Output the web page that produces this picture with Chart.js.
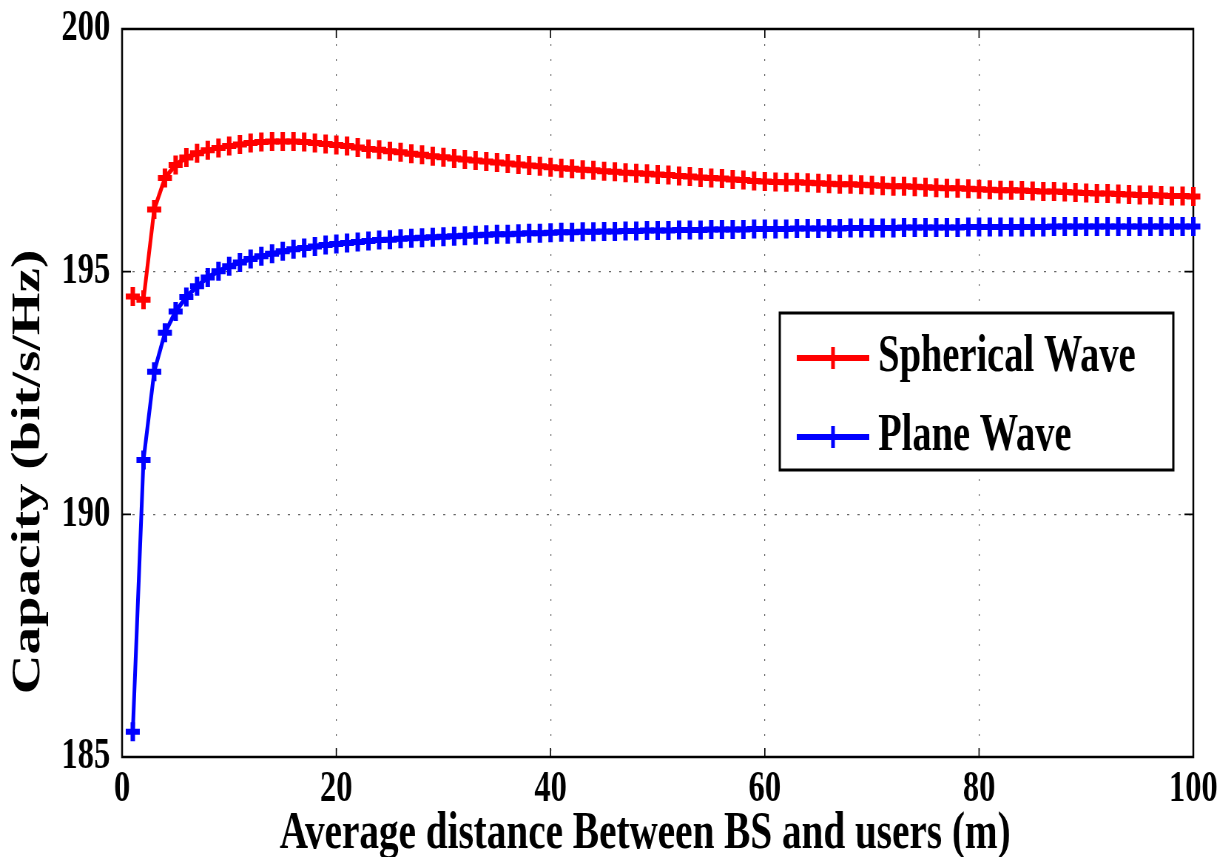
<!DOCTYPE html>
<html>
<head>
<meta charset="utf-8">
<script src="https://cdn.jsdelivr.net/npm/chart.js@4.4.1/dist/chart.umd.min.js"></script>
<style>
  html, body { margin: 0; padding: 0; background: #fff; overflow: hidden; }
  #wrap { width: 1220px; height: 857px; overflow: hidden; position: relative; background: #fff; }
  /* the figure uses a horizontally condensed typeface look: draw wide, then condense */
  #c { position: absolute; left: 0; top: 0; transform: scaleX(0.7398); transform-origin: 0 0; }
</style>
</head>
<body>
<div id="wrap"><canvas id="c" width="1649" height="857"></canvas></div>
<script>
// Average distance between BS and users (m)
const distance = [
  1, 2, 3, 4, 5, 6, 7, 8, 9, 10, 11, 12, 13, 14, 15, 16, 17, 18, 19, 20,
  21, 22, 23, 24, 25, 26, 27, 28, 29, 30, 31, 32, 33, 34, 35, 36, 37, 38, 39, 40,
  41, 42, 43, 44, 45, 46, 47, 48, 49, 50, 51, 52, 53, 54, 55, 56, 57, 58, 59, 60,
  61, 62, 63, 64, 65, 66, 67, 68, 69, 70, 71, 72, 73, 74, 75, 76, 77, 78, 79, 80,
  81, 82, 83, 84, 85, 86, 87, 88, 89, 90, 91, 92, 93, 94, 95, 96, 97, 98, 99, 100
];

// Capacity (bit/s/Hz), spherical wave model
const sphericalWave = [
  194.49, 194.42, 196.28, 196.93, 197.20, 197.35, 197.44, 197.50, 197.55, 197.59,
  197.62, 197.65, 197.67, 197.68, 197.68, 197.68, 197.67, 197.65, 197.63, 197.61,
  197.59, 197.56, 197.53, 197.51, 197.48, 197.46, 197.43, 197.41, 197.38, 197.36,
  197.33, 197.31, 197.29, 197.27, 197.25, 197.23, 197.21, 197.19, 197.17, 197.15,
  197.13, 197.12, 197.10, 197.09, 197.07, 197.06, 197.04, 197.03, 197.02, 197.00,
  196.99, 196.97, 196.96, 196.94, 196.93, 196.92, 196.90, 196.89, 196.87, 196.86,
  196.85, 196.84, 196.84, 196.83, 196.82, 196.81, 196.80, 196.80, 196.79, 196.78,
  196.77, 196.76, 196.76, 196.75, 196.74, 196.73, 196.72, 196.72, 196.71, 196.70,
  196.69, 196.68, 196.68, 196.67, 196.66, 196.65, 196.65, 196.64, 196.63, 196.62,
  196.61, 196.61, 196.60, 196.59, 196.58, 196.58, 196.57, 196.56, 196.56, 196.55
];

// Capacity (bit/s/Hz), plane wave model
const planeWave = [
  185.52, 191.12, 192.94, 193.74, 194.18, 194.48, 194.70, 194.88, 195.01, 195.11,
  195.19, 195.26, 195.32, 195.37, 195.42, 195.46, 195.49, 195.52, 195.55, 195.57,
  195.59, 195.61, 195.63, 195.65, 195.66, 195.68, 195.69, 195.70, 195.71, 195.72,
  195.73, 195.74, 195.75, 195.76, 195.77, 195.77, 195.78, 195.79, 195.79, 195.80,
  195.81, 195.81, 195.82, 195.82, 195.83, 195.83, 195.84, 195.84, 195.85, 195.85,
  195.85, 195.86, 195.86, 195.86, 195.87, 195.87, 195.87, 195.87, 195.88, 195.88,
  195.88, 195.88, 195.89, 195.89, 195.89, 195.89, 195.89, 195.90, 195.90, 195.90,
  195.90, 195.90, 195.91, 195.91, 195.91, 195.91, 195.91, 195.91, 195.92, 195.92,
  195.92, 195.92, 195.92, 195.92, 195.92, 195.92, 195.93, 195.93, 195.93, 195.93,
  195.93, 195.93, 195.93, 195.93, 195.93, 195.93, 195.93, 195.93, 195.93, 195.93
];

const seriesNames = ['Spherical Wave', 'Plane Wave'];
const seriesColors = ['#ff0000', '#0000ff'];
const xTicks = [0, 20, 40, 60, 80, 100];
const yTicks = [185, 190, 195, 200];
const xTitle = 'Average distance Between BS and users (m)';
const yTitle = 'Capacity (bit/s/Hz)';

const FAMILY = "'Liberation Serif', 'Times New Roman', Times, serif";

function points(values) {
  return distance.map((d, i) => ({ x: d, y: values[i] }));
}

function lineSeries(name, color, values) {
  return {
    label: name,
    data: points(values),
    borderColor: color,
    backgroundColor: color,
    borderWidth: 5,
    pointStyle: 'cross',
    pointRadius: 9.5,
    pointBorderWidth: 6,
    pointHoverRadius: 9.5,
    tension: 0,
    fill: false,
    clip: false
  };
}

// Solid box around the plot with short inward tick marks on all four sides
const framePlugin = {
  id: 'frame',
  beforeDatasetsDraw(chart) {
    const { ctx, chartArea: a, scales: { x, y } } = chart;
    ctx.save();
    ctx.strokeStyle = '#000';
    ctx.lineWidth = 2.5;
    ctx.strokeRect(a.left, a.top, a.right - a.left, a.bottom - a.top);
    ctx.lineWidth = 1.6;
    ctx.beginPath();
    x.ticks.forEach(t => {
      const px = x.getPixelForValue(t.value);
      ctx.moveTo(px, a.bottom); ctx.lineTo(px, a.bottom - 9);
      ctx.moveTo(px, a.top); ctx.lineTo(px, a.top + 9);
    });
    y.ticks.forEach(t => {
      const py = y.getPixelForValue(t.value);
      ctx.moveTo(a.left, py); ctx.lineTo(a.left + 12, py);
      ctx.moveTo(a.right, py); ctx.lineTo(a.right - 12, py);
    });
    ctx.stroke();
    ctx.restore();
  }
};

// Axis titles
const axisTitlePlugin = {
  id: 'axisTitles',
  afterDraw(chart) {
    const ctx = chart.ctx;
    ctx.save();
    ctx.fillStyle = '#000';
    ctx.textBaseline = 'middle';
    ctx.textAlign = 'center';
    ctx.font = 'bold 53px ' + FAMILY;
    ctx.fillText(xTitle, 872, 834);
    ctx.translate(38.5, 472);
    ctx.rotate(-Math.PI / 2);
    ctx.font = 'bold 55px ' + FAMILY;
    ctx.fillText(yTitle, 0, 0);
    ctx.restore();
  }
};

// Boxed legend inside the plot, to the right
const boxLegendPlugin = {
  id: 'boxLegend',
  afterDatasetsDraw(chart) {
    const ctx = chart.ctx;
    const box = { left: 1054, top: 313, right: 1586, bottom: 470 };
    const rows = [358, 437];
    ctx.save();
    ctx.fillStyle = '#fff';
    ctx.fillRect(box.left, box.top, box.right - box.left, box.bottom - box.top);
    ctx.strokeStyle = '#000';
    ctx.lineWidth = 3;
    ctx.strokeRect(box.left, box.top, box.right - box.left, box.bottom - box.top);
    chart.data.datasets.forEach((ds, i) => {
      const yy = rows[i];
      ctx.strokeStyle = ds.borderColor;
      ctx.lineWidth = 6;
      ctx.beginPath();
      ctx.moveTo(1077, yy); ctx.lineTo(1175, yy);
      ctx.stroke();
      ctx.lineWidth = 5;
      ctx.beginPath();
      ctx.moveTo(1126, yy - 11); ctx.lineTo(1126, yy + 11);
      ctx.stroke();
      ctx.fillStyle = '#000';
      ctx.font = 'bold 52px ' + FAMILY;
      ctx.textAlign = 'left';
      ctx.textBaseline = 'middle';
      ctx.fillText(ds.label, 1187, yy);
    });
    ctx.restore();
  }
};

new Chart(document.getElementById('c').getContext('2d'), {
  type: 'line',
  data: {
    datasets: [
      lineSeries(seriesNames[0], seriesColors[0], sphericalWave),
      lineSeries(seriesNames[1], seriesColors[1], planeWave)
    ]
  },
  options: {
    responsive: false,
    animation: false,
    devicePixelRatio: 1,
    layout: { padding: { top: 29, right: 36, left: 0, bottom: 0 } },
    plugins: { legend: { display: false }, tooltip: { enabled: false } },
    events: [],
    scales: {
      x: {
        type: 'linear',
        min: 0,
        max: 100,
        afterBuildTicks: s => { s.ticks = xTicks.map(v => ({ value: v })); },
        afterFit: s => { s.height = 100; s.paddingLeft = 0; s.paddingRight = 0; },
        ticks: {
          color: '#000',
          font: { family: FAMILY, size: 44, weight: 'bold' },
          padding: 6,
          maxRotation: 0,
          autoSkip: false
        },
        grid: { color: '#666', lineWidth: 1.2, drawTicks: false },
        border: { display: false, dash: [2, 13] }
      },
      y: {
        type: 'linear',
        min: 185,
        max: 200,
        afterBuildTicks: s => { s.ticks = yTicks.map(v => ({ value: v })); },
        afterFit: s => { s.width = 165; s.paddingTop = 0; s.paddingBottom = 0; },
        ticks: {
          color: '#000',
          font: { family: FAMILY, size: 44, weight: 'bold' },
          padding: 16,
          autoSkip: false
        },
        grid: { color: '#666', lineWidth: 1.2, drawTicks: false },
        border: { display: false, dash: [3, 11] }
      }
    }
  },
  plugins: [framePlugin, boxLegendPlugin, axisTitlePlugin]
});
</script>
</body>
</html>
